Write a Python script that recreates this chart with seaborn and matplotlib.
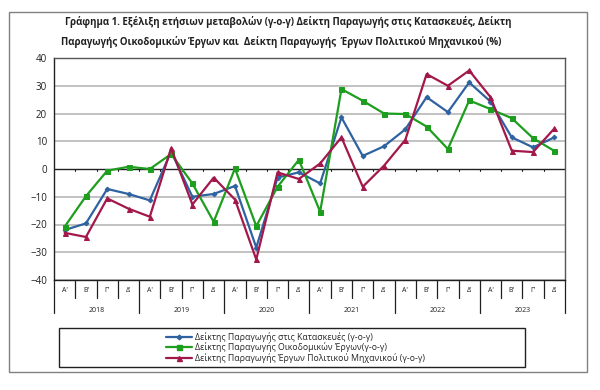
import matplotlib
matplotlib.use("Agg")
import matplotlib.pyplot as plt
import matplotlib.transforms as mtransforms
from matplotlib.patches import Rectangle
from matplotlib.lines import Line2D
import seaborn as sns
import pandas as pd
import numpy as np

years = ["2018", "2019", "2020", "2021", "2022", "2023"]
quarters = ["Α'", "Β'", "Γ'", "Δ'"]

construction = [-22.0, -19.6, -7.2, -9.0, -11.3, 6.3, -10.0, -9.0, -6.1, -28.3, -3.1, -1.2,
                -5.2, 18.6, 4.7, 8.2, 14.3, 25.9, 20.5, 31.2, 24.3, 11.4, 7.8, 11.4]
buildings = [-20.8, -9.8, -0.6, 0.8, 0.0, 5.4, -5.2, -19.0, 0.2, -20.6, -6.4, 3.3,
             -15.4, 28.8, 24.6, 20.0, 19.8, 15.3, 7.2, 24.7, 21.6, 18.3, 11.1, 6.5]
civil = [-23.0, -24.5, -10.6, -14.3, -17.2, 7.5, -12.8, -3.1, -11.0, -32.6, -1.2, -3.6,
         2.0, 11.4, -6.4, 1.2, 10.5, 34.2, 30.0, 35.5, 25.9, 6.6, 6.1, 14.6]

series_names = ["Δείκτης Παραγωγής στις Κατασκευές (γ-ο-γ)",
                "Δείκτης Παραγωγής Οικοδομικών Έργων(γ-ο-γ)",
                "Δείκτης Παραγωγής Έργων Πολιτικού Μηχανικού (γ-ο-γ)"]
title = ("Γράφημα 1. Εξέλιξη ετήσιων μεταβολών (γ-ο-γ) Δείκτη Παραγωγής στις Κατασκευές, Δείκτη\n"
         "Παραγωγής Οικοδομικών Έργων και  Δείκτη Παραγωγής  Έργων Πολιτικού Μηχανικού (%)")

colors = ["#2E62A0", "#1E9E1E", "#A3184A"]
markers = ["D", "s", "^"]
msizes = [2.4, 3.6, 3.6]

sns.set_style("white")
plt.rcParams["font.family"] = ["Open Sans", "DejaVu Sans"]

n = len(construction)
x = np.arange(n)
df = pd.DataFrame({
    "x": np.tile(x, 3),
    "value": construction + buildings + civil,
    "series": np.repeat(series_names, n),
})

fig = plt.figure(figsize=(6, 3.9), dpi=100)
ax = fig.add_axes([54 / 600, 1 - 280 / 390, (565 - 54) / 600, (280 - 58) / 390])

# gridlines
for v in range(-40, 41, 10):
    if v != 0:
        ax.axhline(v, color="#BDBDBD", lw=1.3, zorder=0)
ax.axhline(0, color="#202020", lw=1.0, zorder=1)

for i, name in enumerate(series_names):
    sns.lineplot(data=df[df["series"] == name], x="x", y="value", ax=ax,
                 color=colors[i], marker=markers[i], markersize=msizes[i],
                 markeredgecolor=colors[i], lw=1.6, legend=False, zorder=3 + i)

ax.set_xlim(-0.5, n - 0.5)
ax.set_ylim(-40, 40)
ax.set_yticks(range(-40, 41, 10))
ax.tick_params(axis="y", labelsize=7, length=3, width=1, colors="#202020", pad=2, direction="out")
ax.tick_params(axis="x", bottom=False, labelbottom=False)
ax.set_xlabel("")
ax.set_ylabel("")
for s in ["left", "bottom"]:
    ax.spines[s].set_color("#202020")
    ax.spines[s].set_linewidth(1.0)
for s in ["top", "right"]:
    ax.spines[s].set_color("#555555")
    ax.spines[s].set_linewidth(1.0)

# small ticks on zero line at category boundaries
for b in np.arange(0.5, n - 0.5, 1):
    ax.plot([b, b], [-0.9, 0.0], color="#202020", lw=0.8, zorder=1)

# category axis below
trans = mtransforms.blended_transform_factory(ax.transData, ax.transAxes)
ax_h_px = 222
for b in np.arange(-0.5, n + 0.5, 1):
    is_year = (b + 0.5) % 4 == 0
    yb = -33 / ax_h_px if is_year else -18 / ax_h_px
    ax.plot([b, b], [0, yb], color="#202020", lw=0.9, transform=trans, clip_on=False)
for i in range(n):
    ax.text(i, -11 / ax_h_px, quarters[i % 4], transform=trans, ha="center", va="center",
            fontsize=5, color="#202020")
for j, yr in enumerate(years):
    ax.text(j * 4 + 1.5, -30 / ax_h_px, yr, transform=trans, ha="center", va="center",
            fontsize=5, color="#202020")

# title
fig.text(0.481, 1 - 22 / 390, title.split("\n")[0], ha="center", va="center",
         fontsize=7, fontweight="bold", color="#202020")
fig.text(0.469, 1 - 42 / 390, title.split("\n")[1], ha="center", va="center",
         fontsize=7, fontweight="bold", color="#202020")

# outer frame
fig.patches.append(Rectangle((9 / 600, 1 - 372 / 390), 578 / 600, 360 / 390,
                             transform=fig.transFigure, fill=False, edgecolor="#808080", lw=1.0))
# legend box
fig.patches.append(Rectangle((59 / 600, 1 - 367 / 390), 466 / 600, 39 / 390,
                             transform=fig.transFigure, fill=False, edgecolor="#202020", lw=1.0))
handles = [Line2D([0], [0], color=colors[i], marker=markers[i], markersize=msizes[i],
                  lw=1.6) for i in range(3)]
leg = fig.legend(handles, series_names, loc="center", bbox_to_anchor=(0.4925, 1 - 347.5 / 390),
                 frameon=False, fontsize=6.3, handlelength=3, handletextpad=0.3,
                 labelspacing=0.05, borderpad=0)

fig.savefig("out.png", dpi=100)
